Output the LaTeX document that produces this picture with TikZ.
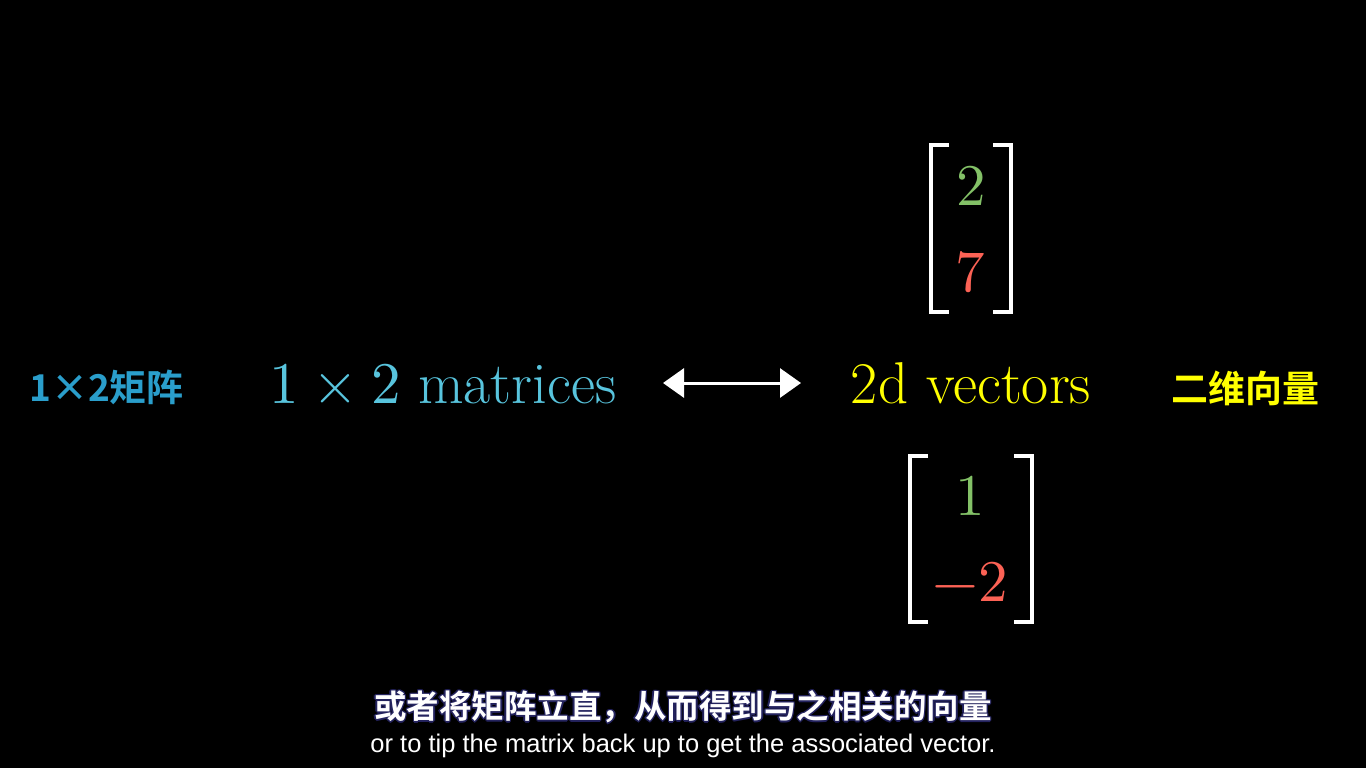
\documentclass[tikz,border=0pt]{standalone}
\usepackage{fontspec}
\usepackage{unicode-math}
\usetikzlibrary{arrows.meta}
\newfontfamily\cjkb{Noto Sans CJK SC Bold}
\newfontfamily\subsans{Liberation Sans}
\definecolor{tblue}{HTML}{58C4DD}
\definecolor{lblue}{HTML}{2A9ECB}
\definecolor{tyellow}{HTML}{FFFF00}
\definecolor{tgreen}{HTML}{83C167}
\definecolor{tred}{HTML}{FC6255}
\definecolor{subout}{HTML}{24235E}
\newcommand\myoutl[1]{\leavevmode
  \rlap{\kern-1.6pt\textcolor{subout}{#1}}%
  \rlap{\kern1.6pt\textcolor{subout}{#1}}%
  \rlap{\raisebox{1.6pt}{\textcolor{subout}{#1}}}%
  \rlap{\raisebox{-1.6pt}{\textcolor{subout}{#1}}}%
  \rlap{\kern-1.1pt\raisebox{1.1pt}{\textcolor{subout}{#1}}}%
  \rlap{\kern1.1pt\raisebox{1.1pt}{\textcolor{subout}{#1}}}%
  \rlap{\kern-1.1pt\raisebox{-1.1pt}{\textcolor{subout}{#1}}}%
  \rlap{\kern1.1pt\raisebox{-1.1pt}{\textcolor{subout}{#1}}}%
  #1}
\begin{document}
\begin{tikzpicture}[x=1pt,y=-1pt,
  big/.style={inner sep=0pt,anchor=base,font=\fontsize{59}{63}\selectfont},
  cjklabel/.style={inner sep=0pt,anchor=base west,font=\cjkb\fontsize{37}{40}\selectfont},
  bracket/.style={draw=white,line width=4.5pt,line cap=butt,line join=miter},
  dblarrow/.style={draw=white,line width=3pt,{Triangle[length=21pt,width=29pt]}-{Triangle[length=21pt,width=29pt]}}]
\fill[black] (0,0) rectangle (1366,768);
\useasboundingbox (0,0) rectangle (1366,768);
% left labels
\node[cjklabel,text=lblue] (cnmat) at (29,401) {1×2矩阵};
\node[big,text=tblue] (mat) at (443,403) {$1\times2$ matrices};
% arrow
\coordinate (al) at (663,383);
\coordinate (ar) at (801,383);
\draw[dblarrow] (al) -- (ar);
% right labels
\node[big,text=tyellow] (vec) at (971,403) {2d vectors};
\node[cjklabel,text=tyellow] (cnvec) at (1171,402) {二维向量};
% top vector
\node[big,text=tgreen] (a1) at (971,205) {$2$};
\node[big,text=tred] (a2) at (971,291) {$7$};
\draw[bracket] (949,145) -- (931,145) -- (931,312) -- (949,312);
\draw[bracket] (993,145) -- (1011,145) -- (1011,312) -- (993,312);
% bottom vector
\node[big,text=tgreen] (b1) at (970,515) {$1$};
\node[big,text=tred] (b2) at (970,601) {$-2$};
\draw[bracket] (928,456) -- (910,456) -- (910,622) -- (928,622);
\draw[bracket] (1014,456) -- (1032,456) -- (1032,622) -- (1014,622);
% subtitles
\node[inner sep=0pt,text=white,font=\cjkb\fontsize{32.5}{36}\selectfont] (subcn) at (683,707) {\myoutl{或者将矩阵立直，从而得到与之相关的向量}};
\node[inner sep=0pt,text=white,font=\subsans\fontsize{25.5}{28}\selectfont] (suben) at (683,746) {or to tip the matrix back up to get the associated vector.};
\end{tikzpicture}
\end{document}
